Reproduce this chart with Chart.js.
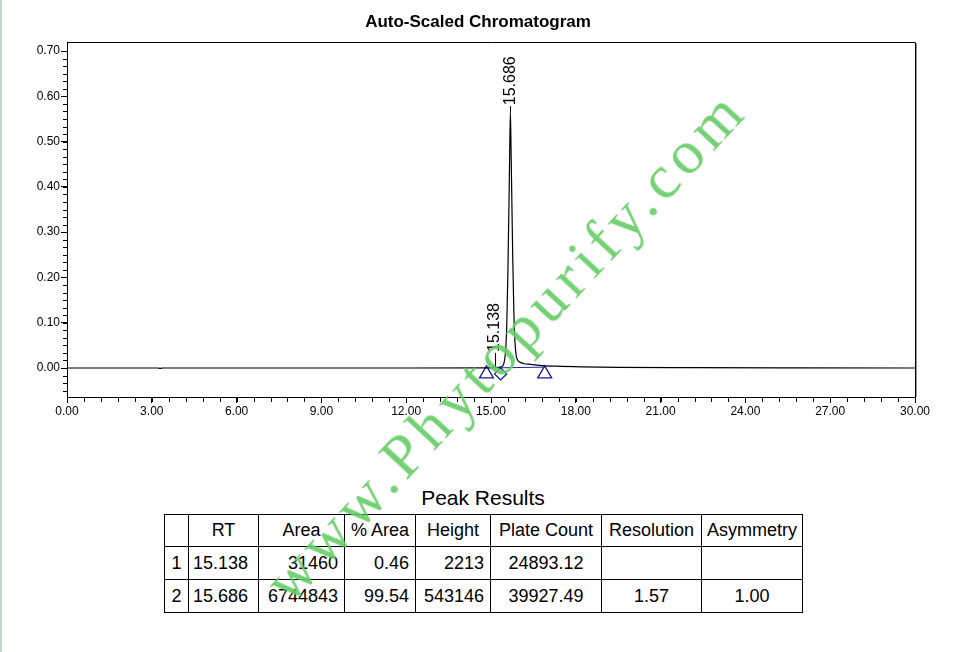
<!DOCTYPE html>
<html>
<head>
<meta charset="utf-8">
<script src="https://cdn.jsdelivr.net/npm/chart.js@4.4.1/dist/chart.umd.min.js"></script>
<style>
  html, body { margin: 0; padding: 0; background: #fff; }
  body { width: 956px; height: 652px; position: relative; overflow: hidden; font-family: "Liberation Sans", Arial, sans-serif; }
  #leftStrip { position: absolute; left: 0; top: 0; width: 2px; height: 652px; background: #c9d3c9; }
  #chartBox { position: absolute; left: 0; top: 0; width: 956px; height: 440px; }
  #peakTitle { position: absolute; left: 164px; width: 638px; top: 486px; text-align: center; font-size: 21px; }
  #peakTable { position: absolute; left: 164px; top: 514px; width: 638px; border-collapse: collapse; table-layout: fixed; font-size: 18px; }
  #peakTable td { border: 1.5px solid #000; padding: 0 6px; height: 31px; white-space: nowrap; overflow: hidden; }
  #peakTable td.c { text-align: center; padding: 0 2px; }
  #peakTable td.r { text-align: right; }
  #watermark { position: absolute; left: 505px; top: 345px; transform: translate(-50%, -50%) rotate(-47deg);
    font-family: "Liberation Serif", "Times New Roman", serif; font-size: 62px; letter-spacing: 6px;
    color: #66cc66; opacity: 0.9; white-space: nowrap; pointer-events: none; }
</style>
</head>
<body>
<div id="leftStrip"></div>
<div id="chartBox"><canvas id="chromatogram"></canvas></div>
<div id="peakTitle">Peak Results</div>
<table id="peakTable"></table>
<div id="watermark">www.Phytopurify.com</div>

<script>
// detector trace (minutes, AU)
const timeMin = [0, 3.2, 3.3, 3.4, 8, 12, 14.8, 15.05, 15.138, 15.22, 15.35, 15.42, 15.47, 15.52, 15.56, 15.60, 15.64, 15.66, 15.686,
  15.71, 15.73, 15.77, 15.81, 15.85, 15.89, 15.93, 16.0, 16.15, 16.4, 16.8, 17.3, 18.2, 19.5, 22, 26, 30];
const signalAU = [0, 0, -0.0008, 0, 0, 0, 0.0002, 0.0015, 0.0024, 0.0012, 0.0025, 0.005, 0.014, 0.04, 0.10, 0.22, 0.38, 0.47, 0.565,
  0.48, 0.40, 0.24, 0.12, 0.055, 0.028, 0.019, 0.014, 0.010, 0.008, 0.0055, 0.004, 0.0025, 0.0015, 0.0008, 0.0003, 0];

// integration baseline and its start / split / end marks
const baselineTime = [14.84, 16.90];
const baselineAU = [0.0, 0.002];
const startEndTime = [14.84, 16.90];
const splitTime = [15.34];
const markAU = -0.013;

// peak labels
const peakRT = [15.138, 15.686];

// axis ticks
const xTickValues = [0, 3, 6, 9, 12, 15, 18, 21, 24, 27, 30];
const yTickValues = [0, 0.1, 0.2, 0.3, 0.4, 0.5, 0.6, 0.7];

// peak results table
const tableHead = ['', 'RT', 'Area', '% Area', 'Height', 'Plate Count', 'Resolution', 'Asymmetry'];
const peakNo = ['1', '2'];
const rtText = ['15.138', '15.686'];
const areaVals = ['31460', '6744843'];
const pctArea = ['0.46', '99.54'];
const heightVals = ['2213', '543146'];
const plateCount = ['24893.12', '39927.49'];
const resolution = ['', '1.57'];
const asymmetry = ['', '1.00'];

const chartTitle = 'Auto-Scaled Chromatogram';
const FONT = '"Liberation Sans", Arial, sans-serif';

// build table
(function () {
    const tbl = document.getElementById('peakTable');
    const widths = [24, 70, 86, 71, 75, 111, 100, 101];
    let html = '<colgroup>' + widths.map(w => '<col style="width:' + w + 'px">').join('') + '</colgroup>';
    html += '<tr>' + tableHead.map(h => '<td class="c">' + h + '</td>').join('') + '</tr>';
    peakNo.forEach((n, i) => {
        html += '<tr style="height:33px">' +
            '<td class="c">' + n + '</td>' +
            '<td style="padding-left:4px">' + rtText[i] + '</td>' +
            '<td class="r">' + areaVals[i] + '</td>' +
            '<td class="r">' + pctArea[i] + '</td>' +
            '<td class="r">' + heightVals[i] + '</td>' +
            '<td class="c">' + plateCount[i] + '</td>' +
            '<td class="c">' + resolution[i] + '</td>' +
            '<td class="c">' + asymmetry[i] + '</td></tr>';
    });
    tbl.innerHTML = html;
})();

// title centred on the page, frame, minor ticks
const framePlugin = {
    id: 'frame',
    afterDraw: (chart) => {
        const { ctx, chartArea: a, scales } = chart;
        ctx.save();
        ctx.fillStyle = '#000';
        ctx.font = 'bold 17px ' + FONT;
        ctx.textAlign = 'center';
        ctx.textBaseline = 'middle';
        ctx.fillText(chartTitle, chart.width / 2, 22);

        ctx.strokeStyle = '#000';
        ctx.lineWidth = 1;
        ctx.beginPath();
        ctx.moveTo(a.left, a.top + 0.5);
        ctx.lineTo(a.right + 0.5, a.top + 0.5);
        ctx.lineTo(a.right + 0.5, a.bottom);
        ctx.stroke();
        ctx.strokeStyle = '#999';
        ctx.beginPath();
        ctx.moveTo(a.right + 1.5, a.top + 1);
        ctx.lineTo(a.right + 1.5, a.bottom);
        ctx.stroke();

        ctx.strokeStyle = '#000';
        ctx.beginPath();
        for (let i = 0; i <= 50; i++) {
            const px = Math.round(scales.x.getPixelForValue(i * 0.6)) + 0.5;
            ctx.moveTo(px, a.bottom + 1);
            ctx.lineTo(px, a.bottom + 5);
        }
        for (let i = -3; i <= 42; i++) {
            const py = Math.round(scales.y.getPixelForValue(i * 0.1 / 6)) + 0.5;
            ctx.moveTo(a.left - 4, py);
            ctx.lineTo(a.left, py);
        }
        ctx.stroke();
        ctx.restore();
    }
};

const peakLabelPlugin = {
    id: 'peakLabels',
    afterDatasetsDraw: (chart) => {
        const { ctx, scales } = chart;
        ctx.save();
        ctx.fillStyle = '#000';
        ctx.strokeStyle = '#000';
        ctx.lineWidth = 1;
        ctx.font = '16px ' + FONT;
        peakRT.forEach(rt => {
            const idx = timeMin.indexOf(rt);
            const px = scales.x.getPixelForValue(rt);
            const py = scales.y.getPixelForValue(signalAU[idx]);
            const gap = signalAU[idx] > 0.1 ? 6 : 14;
            ctx.beginPath();
            ctx.moveTo(Math.round(px) + 0.5, py);
            ctx.lineTo(Math.round(px) + 0.5, py - gap);
            ctx.stroke();
            ctx.save();
            ctx.translate(px, py - gap - 1);
            ctx.rotate(-Math.PI / 2);
            ctx.textAlign = 'left';
            ctx.textBaseline = 'middle';
            ctx.fillText(rt.toFixed(3), 0, 0);
            ctx.restore();
        });
        ctx.restore();
    }
};

const trace = timeMin.map((t, i) => ({ x: t, y: signalAU[i] }));
const baseline = baselineTime.map((t, i) => ({ x: t, y: baselineAU[i] }));
const startEnd = startEndTime.map(t => ({ x: t, y: markAU }));
const split = splitTime.map(t => ({ x: t, y: markAU }));

new Chart(document.getElementById('chromatogram'), {
    type: 'scatter',
    data: {
        datasets: [
            { data: baseline, showLine: true, borderColor: '#1f1fa0', borderWidth: 1, pointRadius: 0 },
            { data: trace, showLine: true, borderColor: '#000', borderWidth: 1.2, pointRadius: 0, cubicInterpolationMode: 'monotone' },
            { data: startEnd, pointStyle: 'triangle', pointRadius: 8, borderColor: '#1a1a8c', borderWidth: 1.3, backgroundColor: 'rgba(0,0,0,0)' },
            { data: split, pointStyle: 'rectRot', pointRadius: 6, borderColor: '#1a1a8c', borderWidth: 1.3, backgroundColor: 'rgba(0,0,0,0)' }
        ]
    },
    options: {
        responsive: true,
        maintainAspectRatio: false,
        animation: false,
        layout: { padding: { left: 0, right: 41, top: 42, bottom: 0 } },
        plugins: {
            legend: { display: false },
            tooltip: { enabled: false },
            title: { display: false }
        },
        scales: {
            x: {
                type: 'linear',
                min: 0, max: 30,
                afterBuildTicks: (s) => { s.ticks = xTickValues.map(v => ({ value: v })); },
                afterFit: (s) => { s.height = 43; },
                ticks: { color: '#000', font: { family: FONT, size: 12 }, padding: 1, maxRotation: 0, autoSkip: false,
                    callback: (v) => Number(v).toFixed(2) },
                grid: { display: true, drawOnChartArea: false, drawTicks: true, tickLength: 6, color: '#000' },
                border: { display: true, color: '#000', width: 1 }
            },
            y: {
                type: 'linear',
                min: -0.064, max: 0.72,
                afterBuildTicks: (s) => { s.ticks = yTickValues.map(v => ({ value: v })); },
                afterFit: (s) => { s.width = 67; },
                ticks: { color: '#000', font: { family: FONT, size: 12 }, padding: 1, autoSkip: false,
                    callback: (v) => Number(v).toFixed(2) },
                grid: { display: true, drawOnChartArea: false, drawTicks: true, tickLength: 6, color: '#000' },
                border: { display: true, color: '#000', width: 1 }
            }
        }
    },
    plugins: [framePlugin, peakLabelPlugin]
});
</script>
</body>
</html>
